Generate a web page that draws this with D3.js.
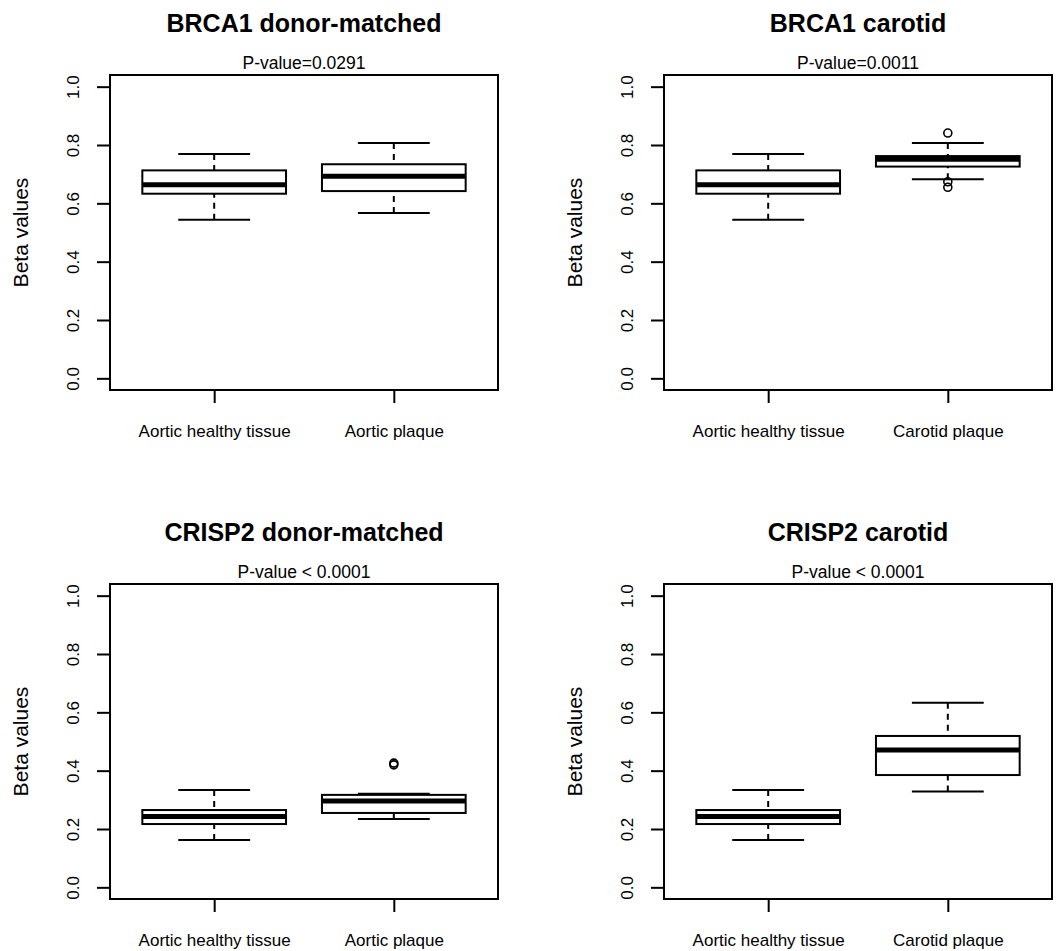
<!DOCTYPE html>
<html>
<head>
<meta charset="utf-8">
<script src="https://cdn.jsdelivr.net/npm/d3@7"></script>
<style>
body { margin: 0; background: #fff; }
text { font-family: "Liberation Sans", Arial, sans-serif; fill: #000; }
</style>
</head>
<body>
<div id="chart"></div>
<script>
// box stats: [lower whisker, Q1, median, Q3, upper whisker]
const aorticHealthyBRCA1 = [0.544, 0.633, 0.664, 0.713, 0.769];
const aorticPlaqueBRCA1 = [0.567, 0.642, 0.693, 0.734, 0.807];
const carotidPlaqueBRCA1 = [0.683, 0.726, 0.751, 0.762, 0.807];
const carotidPlaqueBRCA1Outliers = [0.841, 0.674, 0.655];
const aorticHealthyCRISP2 = [0.162, 0.217, 0.243, 0.265, 0.334];
const aorticPlaqueCRISP2 = [0.234, 0.255, 0.296, 0.317, 0.321];
const aorticPlaqueCRISP2Outliers = [0.426, 0.420];
const carotidPlaqueCRISP2 = [0.329, 0.385, 0.471, 0.519, 0.633];

const panelTitles = ["BRCA1 donor-matched", "BRCA1 carotid", "CRISP2 donor-matched", "CRISP2 carotid"];
const pValueLabels = ["P-value=0.0291", "P-value=0.0011", "P-value < 0.0001", "P-value < 0.0001"];
const donorLabels = ["Aortic healthy tissue", "Aortic plaque"];
const carotidLabels = ["Aortic healthy tissue", "Carotid plaque"];
const yTicks = [0, 0.2, 0.4, 0.6, 0.8, 1.0];
const yLabel = "Beta values";

var panels = [
    {title: panelTitles[0], p: pValueLabels[0], labels: donorLabels,
     boxes: [{stats: aorticHealthyBRCA1, out: []}, {stats: aorticPlaqueBRCA1, out: []}]},
    {title: panelTitles[1], p: pValueLabels[1], labels: carotidLabels,
     boxes: [{stats: aorticHealthyBRCA1, out: []}, {stats: carotidPlaqueBRCA1, out: carotidPlaqueBRCA1Outliers}]},
    {title: panelTitles[2], p: pValueLabels[2], labels: donorLabels,
     boxes: [{stats: aorticHealthyCRISP2, out: []}, {stats: aorticPlaqueCRISP2, out: aorticPlaqueCRISP2Outliers}]},
    {title: panelTitles[3], p: pValueLabels[3], labels: carotidLabels,
     boxes: [{stats: aorticHealthyCRISP2, out: []}, {stats: carotidPlaqueCRISP2, out: []}]}
];

var width = 1060, height = 951
var plotW = 388, plotH = 315
var origins = [[110, 75], [664, 75], [110, 584], [664, 584]]
var font = "'Liberation Sans', Arial, sans-serif"

// R pads the ranges by 4%
var x = d3.scaleLinear().domain([0.42, 2.58]).range([0, plotW]);
var y = d3.scaleLinear().domain([-0.04, 1.04]).range([plotH, 0]);

var svg = d3.select("#chart")
    .append("svg")
    .attr("width", width)
    .attr("height", height);

panels.forEach(function (panel, k) {
    var g = svg.append("g")
        .attr("transform", "translate(" + origins[k][0] + "," + origins[k][1] + ")");

    g.append("text")
        .attr("x", plotW / 2)
        .attr("y", -43)
        .attr("text-anchor", "middle")
        .style("font-size", "25px")
        .style("font-weight", "bold")
        .text(panel.title);

    g.append("text")
        .attr("x", plotW / 2)
        .attr("y", -6)
        .attr("text-anchor", "middle")
        .style("font-size", "17.5px")
        .text(panel.p);

    var yAxis = g.append("g")
        .call(d3.axisLeft(y).tickValues(yTicks).tickSize(13).tickSizeOuter(0).tickFormat(d3.format(".1f")));
    yAxis.select(".domain").remove();
    yAxis.selectAll("line").attr("stroke-width", 2);
    yAxis.selectAll("text")
        .attr("transform", "rotate(-90)")
        .attr("x", 0)
        .attr("y", -37)
        .attr("dy", "0.35em")
        .attr("text-anchor", "middle")
        .style("font-size", "17px")
        .style("font-family", font);

    var xAxis = g.append("g")
        .attr("transform", "translate(0," + plotH + ")")
        .call(d3.axisBottom(x).tickValues([1, 2]).tickSize(13).tickSizeOuter(0)
            .tickFormat(function (d) { return panel.labels[d - 1]; }));
    xAxis.select(".domain").remove();
    xAxis.selectAll("line").attr("stroke-width", 2);
    xAxis.selectAll("text")
        .attr("y", 47)
        .attr("dy", 0)
        .style("font-size", "17px")
        .style("font-family", font);

    g.append("text")
        .attr("transform", "translate(-89," + plotH / 2 + ") rotate(-90)")
        .attr("dy", "0.35em")
        .attr("text-anchor", "middle")
        .style("font-size", "21px")
        .text(yLabel);

    panel.boxes.forEach(function (b, i) {
        var c = i + 1
        var s = b.stats

        // dashed whiskers
        g.append("line")
            .attr("x1", x(c)).attr("x2", x(c))
            .attr("y1", y(s[0])).attr("y2", y(s[1]))
            .attr("stroke", "black").attr("stroke-width", 2).attr("stroke-dasharray", "6,5");
        g.append("line")
            .attr("x1", x(c)).attr("x2", x(c))
            .attr("y1", y(s[4])).attr("y2", y(s[3]))
            .attr("stroke", "black").attr("stroke-width", 2).attr("stroke-dasharray", "6,5");

        // staples
        [s[0], s[4]].forEach(function (v) {
            g.append("line")
                .attr("x1", x(c - 0.2)).attr("x2", x(c + 0.2))
                .attr("y1", y(v)).attr("y2", y(v))
                .attr("stroke", "black").attr("stroke-width", 2);
        });

        g.append("rect")
            .attr("x", x(c - 0.4))
            .attr("y", y(s[3]))
            .attr("width", x(c + 0.4) - x(c - 0.4))
            .attr("height", y(s[1]) - y(s[3]))
            .attr("fill", "white")
            .attr("stroke", "black")
            .attr("stroke-width", 2);

        g.append("line")
            .attr("x1", x(c - 0.4)).attr("x2", x(c + 0.4))
            .attr("y1", y(s[2])).attr("y2", y(s[2]))
            .attr("stroke", "black").attr("stroke-width", 5);

        g.selectAll(".out" + i)
            .data(b.out)
            .enter()
            .append("circle")
            .attr("cx", x(c))
            .attr("cy", function (d) { return y(d); })
            .attr("r", 4)
            .attr("fill", "none")
            .attr("stroke", "black")
            .attr("stroke-width", 1.6);
    });

    g.append("rect")
        .attr("width", plotW)
        .attr("height", plotH)
        .attr("fill", "none")
        .attr("stroke", "black")
        .attr("stroke-width", 2);
});
</script>
</body>
</html>
